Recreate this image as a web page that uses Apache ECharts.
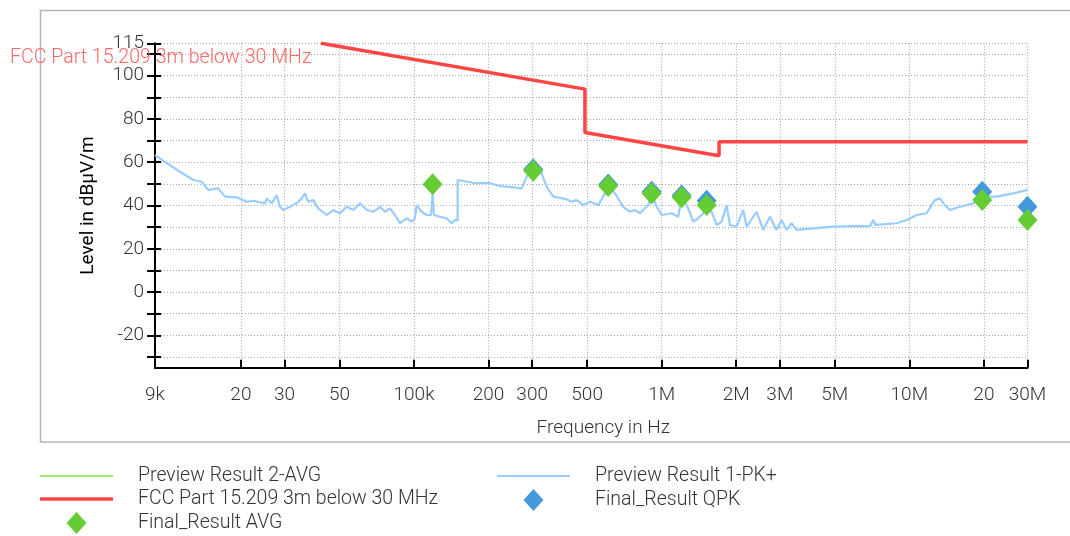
<!DOCTYPE html>
<html>
<head>
<meta charset="utf-8">
<script src="https://cdn.jsdelivr.net/npm/echarts@6/dist/echarts.min.js"></script>
<style>html,body{margin:0;padding:0;background:#fff}#c{width:1070px;height:536px}</style>
</head>
<body>
<div id="c"></div>
<script>
// ---- axis ticks ----
const xTickFreqs = [9e3, 2e4, 3e4, 5e4, 1e5, 2e5, 3e5, 5e5, 1e6, 2e6, 3e6, 5e6, 1e7, 2e7, 3e7];
const xTickLabels = ['9k', '20', '30', '50', '100k', '200', '300', '500', '1M', '2M', '3M', '5M', '10M', '20', '30M'];
const yTickValues = [-30, -20, -10, 0, 10, 20, 30, 40, 50, 60, 70, 80, 90, 100, 110, 115];
const yLabelValues = [-20, 0, 20, 40, 60, 80, 100, 115];

// ---- limit line: FCC Part 15.209 3m below 30 MHz ----
const limitFreqs = [42100, 490000, 490000, 1705000, 1705000, 30000000];
const limitLevels = [115, 93.8, 73.8, 63.0, 69.5, 69.5];

// ---- Preview Result 1-PK+ ----
const pkFreqs = [9000, 9880, 11350, 12850, 13890, 14770, 16210, 17250, 19230, 21110,
  22450, 25020, 25420, 26630, 27890, 28760, 29660, 31560, 33600, 35200,
  36280, 37400, 39200, 41070, 44400, 47200, 50200, 53500, 56900, 60500,
  64400, 68500, 72900, 76300, 80000, 83800, 87800, 93400, 97800, 100900,
  102500, 107400, 112500, 117100, 118900, 120400, 127200, 135400, 141900, 146400,
  150000, 150000, 173500, 202600, 222300, 236600, 272000, 285000, 302900, 327600,
  343200, 364900, 413300, 432900, 453600, 482300, 513300, 554400, 580800, 608500,
  647500, 699600, 744600, 779800, 817000, 882400, 911000, 954000, 999500, 1097000,
  1166000, 1204000, 1280000, 1341000, 1405000, 1472000, 1519000, 1591000, 1667000, 1746000,
  1829000, 1886000, 2007000, 2134000, 2203000, 2418000, 2570000, 2735000, 2911000, 3050000,
  3195000, 3346000, 3505000, 4090000, 4930000, 5930000, 6950000, 7150000, 7300000, 8880000,
  9750000, 10700000, 11740000, 12680000, 13290000, 13910000, 14580000, 16000000, 18100000, 19870000,
  22500000, 26300000, 30000000];
const pkLevels = [63.3, 60.2, 55.6, 51.8, 51.0, 47.2, 47.9, 44.1, 43.8, 41.7,
  42.2, 41.0, 43.3, 41.0, 44.8, 39.4, 37.9, 39.4, 41.0, 43.3,
  45.6, 41.7, 42.5, 38.7, 35.6, 37.9, 36.4, 39.4, 37.9, 41.0,
  37.9, 37.1, 39.4, 37.1, 38.7, 35.6, 31.8, 34.1, 32.5, 34.1,
  40.2, 37.1, 35.6, 35.6, 45.6, 35.6, 34.8, 34.1, 31.8, 33.3,
  33.0, 51.8, 50.5, 50.3, 49.0, 48.7, 47.9, 53.3, 56.4, 54.9,
  48.7, 44.1, 42.9, 41.7, 42.5, 40.2, 41.7, 40.2, 44.1, 49.5,
  45.6, 39.4, 37.1, 37.9, 36.4, 40.2, 45.6, 39.4, 35.6, 36.4,
  34.8, 44.1, 38.7, 32.5, 34.1, 36.4, 40.2, 37.1, 31.0, 32.5,
  40.2, 31.0, 30.2, 37.9, 30.2, 37.1, 28.7, 34.8, 28.7, 33.3,
  28.7, 31.8, 28.7, 29.4, 30.2, 30.5, 30.5, 33.3, 31.0, 31.8,
  33.3, 35.6, 36.4, 42.5, 43.3, 40.2, 37.9, 39.4, 41.0, 44.1,
  44.1, 45.6, 47.2];

// ---- Preview Result 2-AVG (no visible trace) ----
const avgPreviewFreqs = [];
const avgPreviewLevels = [];

// ---- Final results ----
const qpkFreqs = [302900, 608000, 911000, 1204000, 1519000, 19700000, 30000000];
const qpkLevels = [56.8, 49.7, 46.4, 44.6, 42.2, 46.4, 39.4];
const avgFreqs = [118900, 302900, 608000, 911000, 1204000, 1519000, 19700000, 30000000];
const avgLevels = [49.8, 56.1, 49.0, 45.6, 43.8, 40.2, 42.5, 33.3];

const limitName = 'FCC Part 15.209 3m below 30 MHz';

function pairs(f, l) { return f.map((v, i) => [Math.log10(v), l[i]]); }
const xTickLogs = xTickFreqs.map(v => Math.log10(v));
function xLabel(v) {
  for (let i = 0; i < xTickLogs.length; i++) if (Math.abs(xTickLogs[i] - v) < 1e-6) return xTickLabels[i];
  return '';
}
const FONT = 'Roboto';
const FW = 300;
const diamondIcon = 'path://M10,0 L20,11 L10,22 L0,11 Z';
const thinLineIcon = 'path://M0,0 L73,0 L73,2 L0,2 Z';
const thickLineIcon = 'path://M0,0 L73,0 L73,3.5 L0,3.5 Z';

const legendText = {fontFamily: FONT, fontWeight: FW, fontSize: 19.5, color: '#333', padding: [0, 0, 0, 20]};

const chart = echarts.init(document.getElementById('c'), null, {renderer: 'canvas'});
chart.setOption({
  animation: false,
  backgroundColor: '#fff',
  grid: {left: 155, right: 42.5, top: 43.3, bottom: 168.3, containLabel: false, outerBoundsMode: 'none'},
  xAxis: {
    type: 'value',
    min: Math.log10(xTickFreqs[0]),
    max: Math.log10(xTickFreqs[xTickFreqs.length - 1]),
    name: 'Frequency in Hz',
    nameLocation: 'middle',
    nameGap: 51,
    nameTextStyle: {fontFamily: FONT, fontWeight: FW, fontSize: 19, color: '#333', padding: [0, 0, 0, 24]},
    axisLine: {show: true, onZero: false, lineStyle: {color: '#000', width: 2}},
    axisTick: {show: true, inside: true, length: 8, lineStyle: {color: '#000', width: 2}, customValues: xTickLogs},
    axisLabel: {customValues: xTickLogs, formatter: xLabel, margin: 18, fontFamily: FONT, fontWeight: FW, fontSize: 19, color: '#333'},
    splitLine: {show: true, lineStyle: {color: '#a8a8a8', width: 1.2, type: [1, 2]}}
  },
  yAxis: [{
    type: 'value',
    min: -35, max: 115,
    name: 'Level in dBµV/m',
    nameLocation: 'middle',
    nameGap: 57,
    nameTextStyle: {fontFamily: FONT, fontSize: 19, color: '#000'},
    axisLine: {show: true, onZero: false, lineStyle: {color: '#000', width: 2}},
    axisTick: {show: true, inside: false, length: 8, lineStyle: {color: '#000', width: 2}, customValues: yTickValues},
    axisLabel: {customValues: yLabelValues, margin: 11, fontFamily: FONT, fontWeight: FW, fontSize: 19, color: '#333'},
    splitLine: {show: true, lineStyle: {color: '#a8a8a8', width: 1.2, type: [1, 2]}}
  }, {
    type: 'value',
    min: -35, max: 115,
    position: 'left',
    offset: 0,
    axisLine: {show: false},
    axisTick: {show: true, inside: true, length: 6, lineStyle: {color: '#000', width: 2}, customValues: yTickValues},
    axisLabel: {show: false},
    splitLine: {show: false}
  }],
  legend: [{
    left: 40, top: 466, height: 80, padding: 0, orient: 'vertical', itemWidth: 73, itemHeight: 22, itemGap: 3,
    selectedMode: false,
    textStyle: legendText,
    data: [
      {name: 'Preview Result 2-AVG', icon: thinLineIcon},
      {name: limitName, icon: thickLineIcon},
      {name: 'Final_Result AVG', icon: diamondIcon}
    ]
  }, {
    left: 497, top: 466, height: 80, padding: 0, orient: 'vertical', itemWidth: 73, itemHeight: 22, itemGap: 3,
    selectedMode: false,
    textStyle: legendText,
    data: [
      {name: 'Preview Result 1-PK+', icon: thinLineIcon},
      {name: 'Final_Result QPK', icon: diamondIcon}
    ]
  }],
  graphic: [{
    type: 'rect', silent: true, z: -10,
    shape: {x: 40.5, y: 10.5, width: 1100, height: 431.5},
    style: {fill: 'none', stroke: '#b5b5b5', lineWidth: 1.5}
  }, {
    type: 'text', silent: true, z: 100, x: 10, y: 58,
    style: {text: limitName, fill: '#ff6666', fontSize: 19.6, fontWeight: FW, fontFamily: FONT, align: 'left', verticalAlign: 'middle'}
  }],
  series: [{
    name: 'Preview Result 2-AVG', type: 'line', symbol: 'none', showSymbol: false,
    data: pairs(avgPreviewFreqs, avgPreviewLevels),
    lineStyle: {color: '#99ee66', width: 2}, itemStyle: {color: '#99ee66'}
  }, {
    name: 'Preview Result 1-PK+', type: 'line', symbol: 'none', showSymbol: false,
    data: pairs(pkFreqs, pkLevels),
    lineStyle: {color: '#99ccff', width: 2.2}, itemStyle: {color: '#99ccff'}, z: 2
  }, {
    name: limitName, type: 'line', symbol: 'none', showSymbol: false,
    data: pairs(limitFreqs, limitLevels),
    lineStyle: {color: '#ff4444', width: 3.5}, itemStyle: {color: '#ff4444'}, z: 3
  }, {
    name: 'Final_Result QPK', type: 'scatter', symbol: 'diamond', symbolSize: [20, 22],
    data: pairs(qpkFreqs, qpkLevels),
    itemStyle: {color: '#4499dd', opacity: 1}, z: 4
  }, {
    name: 'Final_Result AVG', type: 'scatter', symbol: 'diamond', symbolSize: [20, 22],
    data: pairs(avgFreqs, avgLevels),
    itemStyle: {color: '#66cc33', opacity: 1}, z: 5
  }]
});
</script>
</body>
</html>
